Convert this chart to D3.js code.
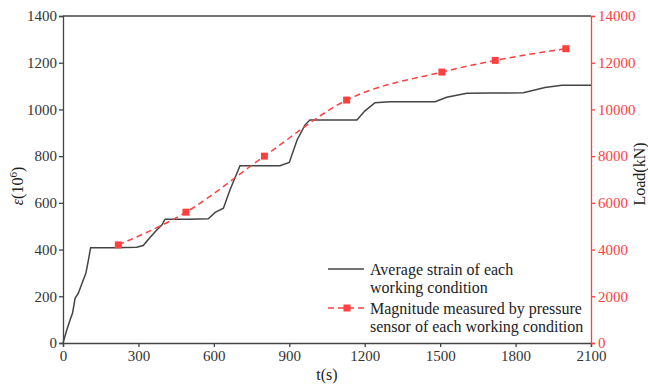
<!DOCTYPE html>
<html>
<head>
<meta charset="utf-8">
<script src="https://cdn.jsdelivr.net/npm/d3@7"></script>
<style>
body{margin:0;background:#fff;}
text{font-family:"Liberation Serif","Times New Roman",serif;}
</style>
</head>
<body>
<div id="chart"></div>
<script>
// strain curve (t in s, strain in 10^-6)
var StrainTime = [0,15,28,38,48,61,78,91,101,110,200,293,319,346,373,393,406,500,578,605,638,664,704,800,863,900,931,962,982,1100,1169,1201,1241,1301,1400,1480,1526,1606,1700,1831,1917,1984,2100];
var StrainValue = [0,56,98,128,191,213,262,298,355,408,408,410,417,452,484,505,530,530,532,559,577,655,759,759,759,773,869,933,955,955,955,994,1029,1033,1033,1033,1052,1069,1070,1071,1094,1104,1104];
// pressure sensor load (kN)
var LoadTime = [220,489,801,1128,1507,1719,2000];
var LoadValue = [4200,5600,8000,10400,11600,12100,12600];
var XTicks = [0,300,600,900,1200,1500,1800,2100];
var YTicks = [0,200,400,600,800,1000,1200,1400];
var Y2Ticks = [0,2000,4000,6000,8000,10000,12000,14000];

var Width = 648, Height = 385;
var Left = 63, Right = 591, Top = 16, Bottom = 343;
var Gray = "#444", Red = "#ff4040";
var Serif = "Liberation Serif, Times New Roman, serif";

var svg = d3.select("#chart").append("svg")
	.attr("width",Width)
	.attr("height",Height)
	.attr("font-family",Serif);

var x = d3.scaleLinear().domain([0,2100]).range([Left,Right]);
var y = d3.scaleLinear().domain([0,1400]).range([Bottom,Top]);
var y2 = d3.scaleLinear().domain([0,14000]).range([Bottom,Top]);

//Axes------------------------------------------------------------------
var xAxis = svg.append("g")
	.attr("transform","translate(0,"+Bottom+")")
	.call(d3.axisBottom(x).tickValues(XTicks).tickFormat(d3.format("d")).tickSizeOuter(0).tickSize(4).tickPadding(3));
var yAxis = svg.append("g")
	.attr("transform","translate("+Left+",0)")
	.call(d3.axisLeft(y).tickValues(YTicks).tickFormat(d3.format("d")).tickSizeOuter(0).tickSize(4).tickPadding(2));
var y2Axis = svg.append("g")
	.attr("transform","translate("+Right+",0)")
	.call(d3.axisRight(y2).tickValues(Y2Ticks).tickFormat(d3.format("d")).tickSizeOuter(0).tickSize(4).tickPadding(3));

[xAxis,yAxis,y2Axis].forEach(function(g){
	g.attr("font-family",Serif).attr("font-size",15);
});
[xAxis,yAxis].forEach(function(g){
	g.selectAll("path,line").attr("stroke",Gray).attr("stroke-width",1.3);
	g.selectAll("text").attr("fill","#333");
});
y2Axis.selectAll("path,line").attr("stroke",Red).attr("stroke-width",1.3);
y2Axis.selectAll("text").attr("fill",Red);

// top frame line
svg.append("line")
	.attr("x1",Left).attr("x2",Right)
	.attr("y1",Top).attr("y2",Top)
	.attr("stroke",Gray).attr("stroke-width",1.3);

//Axis titles-----------------------------------------------------------
svg.append("text")
	.attr("x",(Left+Right)/2).attr("y",380)
	.attr("text-anchor","middle")
	.style("font-size","16px")
	.attr("fill","#222")
	.text("t(s)");

var yTitle = svg.append("text")
	.attr("transform","translate(23,186) rotate(-90)")
	.attr("text-anchor","middle")
	.style("font-size","16px")
	.attr("fill","#222");
yTitle.append("tspan").style("font-style","italic").text("ε");
yTitle.append("tspan").text("(10");
yTitle.append("tspan").attr("dy","-6").style("font-size","11px").text("6");
yTitle.append("tspan").attr("dy","6").text(")");

svg.append("text")
	.attr("transform","translate(645,174) rotate(-90)")
	.attr("text-anchor","middle")
	.style("font-size","16px")
	.attr("fill","#222")
	.text("Load(kN)");

//Series----------------------------------------------------------------
var StrainData = StrainTime.map(function(d,i){return [d,StrainValue[i]];});
var LoadData = LoadTime.map(function(d,i){return [d,LoadValue[i]];});

svg.append("path")
	.datum(StrainData)
	.attr("fill","none")
	.attr("stroke",Gray)
	.attr("stroke-width",1.5)
	.attr("d",d3.line().x(function(d){return x(d[0]);}).y(function(d){return y(d[1]);}));

svg.append("path")
	.datum(LoadData)
	.attr("fill","none")
	.attr("stroke",Red)
	.attr("stroke-width",1.5)
	.attr("stroke-dasharray","6,4")
	.attr("d",d3.line().curve(d3.curveMonotoneX).x(function(d){return x(d[0]);}).y(function(d){return y2(d[1]);}));

svg.selectAll(".marker")
	.data(LoadData)
	.enter()
	.append("rect")
	.attr("class","marker")
	.attr("x",function(d){return x(d[0])-3.5;})
	.attr("y",function(d){return y2(d[1])-3.5;})
	.attr("width",7).attr("height",7)
	.attr("fill",Red);

//Legend----------------------------------------------------------------
var Legend = svg.append("g");
Legend.append("line")
	.attr("x1",328).attr("x2",364).attr("y1",269).attr("y2",269)
	.attr("stroke",Gray).attr("stroke-width",1.5);
Legend.append("line")
	.attr("x1",328).attr("x2",364).attr("y1",308).attr("y2",308)
	.attr("stroke",Red).attr("stroke-width",1.5).attr("stroke-dasharray","6,4");
Legend.append("rect")
	.attr("x",343.5).attr("y",304.5).attr("width",7).attr("height",7).attr("fill",Red);
var LegendText = [["Average strain of each",275],["working condition",293],["Magnitude measured by pressure",314],["sensor of each working condition",332]];
Legend.selectAll(".ltext")
	.data(LegendText)
	.enter()
	.append("text")
	.attr("class","ltext")
	.attr("x",370)
	.attr("y",function(d){return d[1];})
	.style("font-size","16px")
	.attr("fill","#222")
	.text(function(d){return d[0];});
</script>
</body>
</html>
